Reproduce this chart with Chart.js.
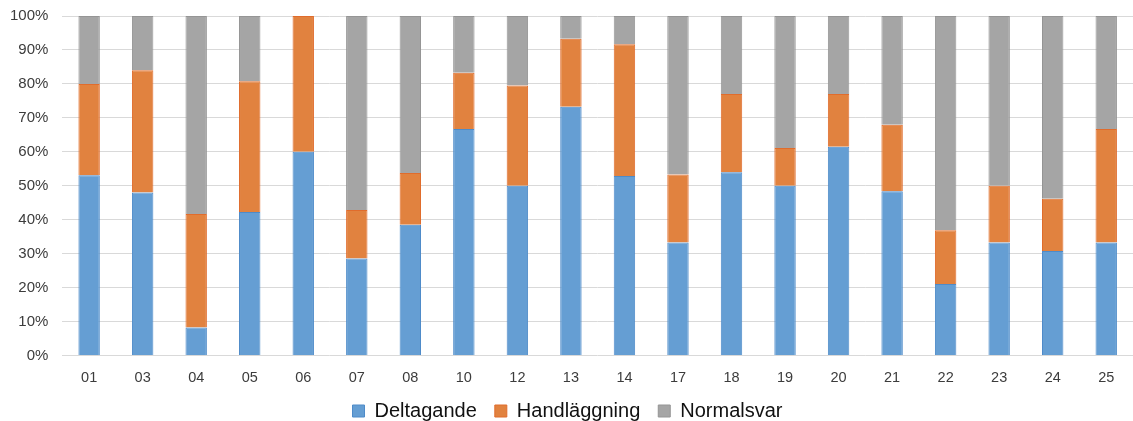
<!DOCTYPE html>
<html>
<head>
<meta charset="utf-8">
<script src="https://cdn.jsdelivr.net/npm/chart.js@4"></script>
<style>
    html, body { margin: 0; padding: 0; background: #fff; }
    #wrap { width: 1133px; height: 421px; }
</style>
</head>
<body>
<div id="wrap"><canvas id="chart"></canvas></div>
<script>
// Share per region (percent of cases).
const regions = ["01", "03", "04", "05", "06", "07", "08", "10", "12", "13",
    "14", "17", "18", "19", "20", "21", "22", "23", "24", "25"];
const deltagande = [53.1, 48.0, 8.3, 42.3, 60.0, 28.6, 38.5, 66.7, 50.0, 73.3,
    52.9, 33.3, 54.0, 50.0, 61.5, 48.4, 21.1, 33.3, 30.8, 33.3];
const handlaggning = [26.9, 36.0, 33.4, 38.5, 40.0, 14.3, 15.3, 16.6, 29.5, 20.0,
    38.8, 20.0, 23.0, 11.1, 15.5, 19.6, 15.8, 16.7, 15.4, 33.4];
const normalsvar = [20.0, 16.0, 58.3, 19.2, 0.0, 57.1, 46.2, 16.7, 20.5, 6.7,
    8.3, 46.7, 23.0, 38.9, 23.0, 32.0, 63.1, 50.0, 53.8, 33.3];
const yTicks = [0, 10, 20, 30, 40, 50, 60, 70, 80, 90, 100];

const FONT = "'Liberation Sans', Arial, sans-serif";

function series(label, data, fill, edge) {
    return {
        label,
        data,
        backgroundColor: fill,
        borderColor: edge,
        borderWidth: 1,
        barPercentage: 0.4,
        categoryPercentage: 1.0,
    };
}

new Chart(document.getElementById("chart"), {
    type: "bar",
    data: {
        labels: regions,
        datasets: [
            series("Deltagande", deltagande, "#659ed3", "#4e8bc9"),
            series("Handläggning", handlaggning, "#e1823f", "#e06c2c"),
            series("Normalsvar", normalsvar, "#a5a5a5", "#959595"),
        ],
    },
    options: {
        responsive: true,
        maintainAspectRatio: false,
        animation: false,
        layout: { padding: { left: -4, right: -6, top: 16, bottom: -10 } },
        plugins: {
            tooltip: { enabled: false },
            legend: {
                position: "bottom",
                labels: {
                    font: { family: FONT, size: 20 },
                    color: "#111",
                    boxWidth: 12,
                    boxHeight: 12,
                    padding: 18,
                },
            },
        },
        scales: {
            x: {
                stacked: true,
                grid: { display: false, drawTicks: false },
                border: { display: false },
                ticks: { font: { family: FONT, size: 14.5 }, color: "#3c3c3c", padding: 14 },
                // pull the legend up under the category labels
                afterFit: (axis) => { axis.height -= 18; },
            },
            y: {
                stacked: true,
                min: 0,
                max: 100,
                afterBuildTicks: (axis) => { axis.ticks = yTicks.map((v) => ({ value: v })); },
                // the label padding should not push the plot area down
                afterFit: (axis) => { axis.paddingTop = 0; axis.paddingBottom = 0; },
                grid: { color: "#d9d9d9", lineWidth: 1, drawTicks: false },
                border: { display: false },
                ticks: {
                    font: { family: FONT, size: 15 },
                    color: "#3c3c3c",
                    padding: 14,
                    callback: (v) => v + "%",
                },
            },
        },
    },
});
</script>
</body>
</html>
